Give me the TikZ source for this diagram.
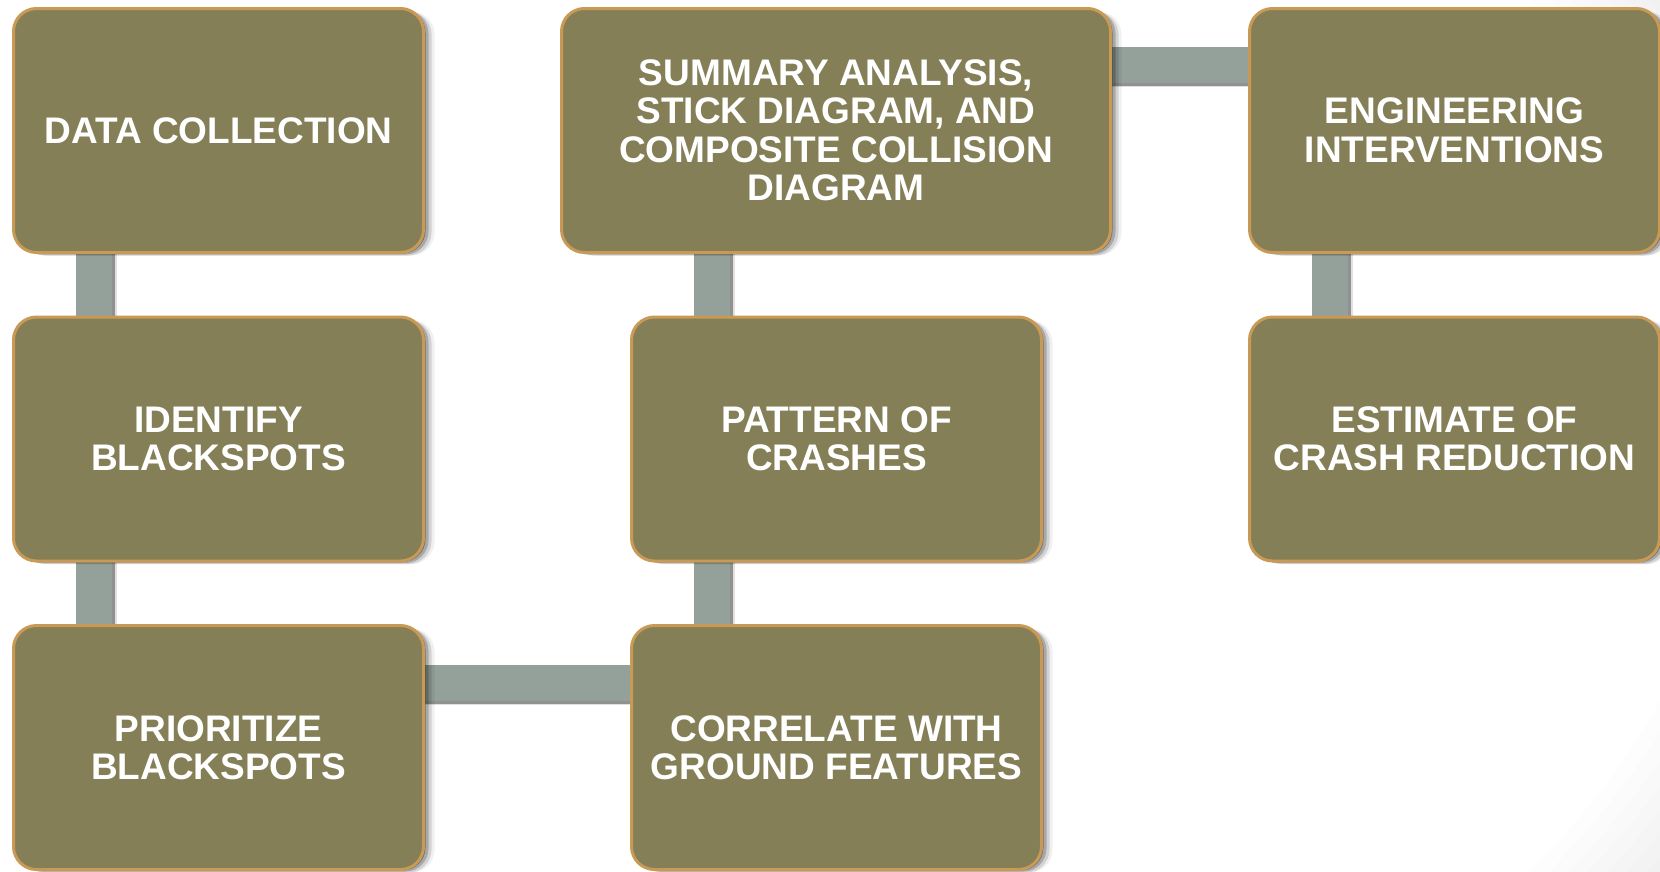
\documentclass[tikz,border=0pt]{standalone}
\usepackage{fontspec}
\setmainfont{Liberation Sans}
\usetikzlibrary{shadows,calc}
\definecolor{boxfill}{HTML}{847F56}
\definecolor{boxline}{HTML}{C99A55}
\definecolor{connfill}{HTML}{93A19A}
\pgfdeclarelayer{bglayer}
\pgfdeclarelayer{connlayer}
\pgfsetlayers{bglayer,connlayer,main}
\tikzset{
  softshadow/.style={
    drop shadow={shadow xshift=2pt, shadow yshift=-1pt, opacity=0.35, fill=black},
    drop shadow={shadow xshift=5pt, shadow yshift=-2pt, opacity=0.20, fill=black},
    drop shadow={shadow xshift=8pt, shadow yshift=-3pt, opacity=0.12, fill=black},
    drop shadow={shadow xshift=11pt, shadow yshift=-3pt, opacity=0.06, fill=black}},
  stepbox/.style={draw=boxline, line width=3pt, fill=boxfill, rounded corners=23pt,
    minimum width=410pt, minimum height=244pt, inner sep=0pt, text=white, align=center,
    font=\fontsize{37}{38.5}\selectfont\bfseries, softshadow},
  connbar/.style={fill=connfill,
    drop shadow={shadow xshift=3pt, shadow yshift=-3pt, opacity=0.35, fill=black},
    drop shadow={shadow xshift=5pt, shadow yshift=-4pt, opacity=0.12, fill=black}},
}
\begin{document}
\begin{tikzpicture}[x=1pt, y=-1pt]
\useasboundingbox (0,0) rectangle (1660,871);
\begin{scope}
\clip (-6,-6) rectangle (1666,877);
% nodes
\node[stepbox] (B1) at (218.5,130.5) {DATA COLLECTION};
\node[stepbox] (B2) at (218.5,439) {IDENTIFY\\BLACKSPOTS};
\node[stepbox] (B3) at (218.5,747.5) {PRIORITIZE\\BLACKSPOTS};
\node[stepbox] (C) at (836.5,747.5) {CORRELATE WITH\\GROUND FEATURES};
\node[stepbox] (P) at (836.5,439) {PATTERN OF\\CRASHES};
\node[stepbox, minimum width=549pt] (S) at (836,130.5) {SUMMARY ANALYSIS,\\STICK DIAGRAM, AND\\COMPOSITE COLLISION\\DIAGRAM};
\node[stepbox] (E) at (1454.5,130.5) {ENGINEERING\\INTERVENTIONS};
\node[stepbox] (R) at (1454.5,439) {ESTIMATE OF\\CRASH REDUCTION};
% connectors (behind boxes)
\begin{pgfonlayer}{connlayer}
\fill[connbar] ($(B1.south west)+(64,-15)$) rectangle ($(B2.north west)+(100,15)$);
\fill[connbar] ($(B2.south west)+(64,-15)$) rectangle ($(B3.north west)+(100,15)$);
\fill[connbar] ($(B3.north east)+(-15,41)$) rectangle ($(C.north west)+(15,77)$);
\fill[connbar] ($(C.north west)+(64,15)$) rectangle ($(P.south west)+(100,-15)$);
\fill[connbar] ($(P.north west)+(64,15)$) rectangle ($(P.north west |- S.south)+(100,-15)$);
\fill[connbar] ($(S.north east)+(-15,40)$) rectangle ($(E.north west)+(15,76)$);
\fill[connbar] ($(E.south west)+(64,-15)$) rectangle ($(R.north west)+(100,15)$);
\end{pgfonlayer}
\begin{pgfonlayer}{bglayer}
\fill[white] (-6,-6) rectangle (1666,877);
\foreach \s in {1.00,1.01,1.02,1.03,1.04,1.05,1.06,1.07}{
  \fill[black, opacity=0.007, even odd rule] (-6,-6) rectangle (1666,877)
    (0,435) ellipse [x radius=\s*1732pt, y radius=\s*929pt];
}
\end{pgfonlayer}
\end{scope}
\end{tikzpicture}
\end{document}
